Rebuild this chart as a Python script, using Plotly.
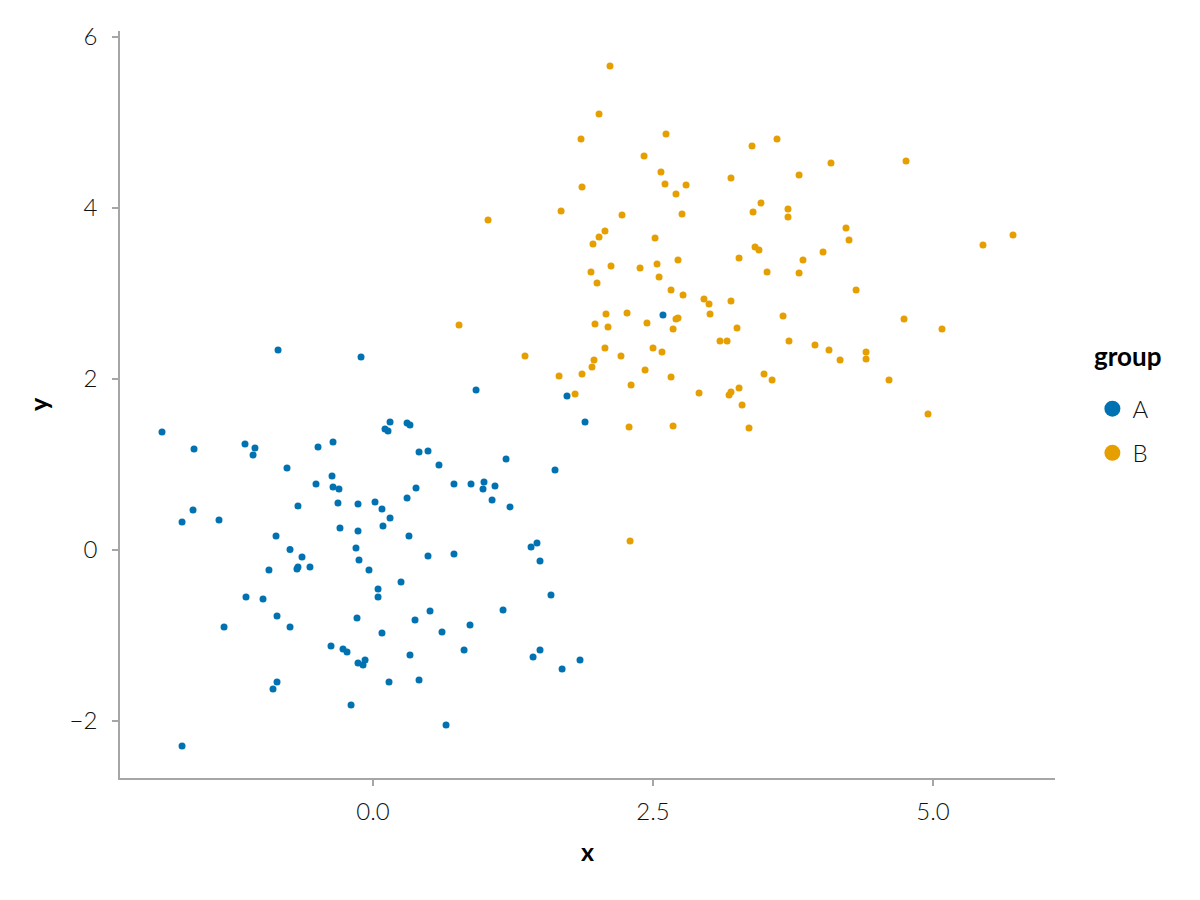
import plotly.graph_objects as go

# Group A
a_x = [-1.884, -1.598, -1.143, -1.054, -1.071, -0.848, -0.107, -0.491, -0.357, -0.768,
       -0.366, -0.509, -0.357, -0.304, -0.313, -0.134, 0.018, 0.080, 0.152, 0.089,
       0.321, -0.670, -1.607, -1.705, -1.375, -0.866, -0.295, -0.134, 0.920, 0.152,
       0.107, 0.134, 0.304, 0.330, 0.411, 0.491, 0.589, 1.188, 1.625, 0.723,
       0.875, 0.991, 0.982, 1.089, 1.063, 1.223, 0.384, 0.304, 1.732, 1.893,
       -0.741, -0.634, -0.929, -0.679, -0.670, -0.563, -0.152, -0.125, -0.036, 0.045,
       0.045, -1.134, -0.982, -0.857, -1.330, -0.741, -0.143, 0.080, -0.375, -0.268,
       -0.232, -0.134, -0.071, -0.089, -0.857, -0.893, -0.196, -1.705, 0.491, 0.723,
       0.250, 1.411, 1.464, 1.491, 1.589, 1.161, 0.509, 0.375, 0.866, 0.616,
       0.813, 0.330, 1.491, 1.429, 1.848, 1.688, 0.143, 0.411, 0.652, 2.589]
a_y = [1.380, 1.181, 1.240, 1.193, 1.111, 2.339, 2.257, 1.205, 1.263, 0.959,
       0.865, 0.772, 0.737, 0.713, 0.550, 0.538, 0.561, 0.480, 0.374, 0.281,
       0.164, 0.515, 0.468, 0.327, 0.351, 0.164, 0.257, 0.222, 1.871, 1.497,
       1.415, 1.392, 1.485, 1.462, 1.146, 1.158, 0.994, 1.064, 0.936, 0.772,
       0.772, 0.795, 0.713, 0.749, 0.585, 0.503, 0.725, 0.608, 1.801, 1.497,
       0.005, -0.082, -0.234, -0.222, -0.199, -0.199, 0.023, -0.117, -0.234, -0.456,
       -0.550, -0.550, -0.573, -0.772, -0.901, -0.901, -0.795, -0.971, -1.123, -1.158,
       -1.193, -1.322, -1.287, -1.345, -1.544, -1.626, -1.813, -2.292, -0.070, -0.047,
       -0.374, 0.035, 0.082, -0.129, -0.526, -0.702, -0.713, -0.819, -0.877, -0.959,
       -1.170, -1.228, -1.170, -1.251, -1.287, -1.392, -1.544, -1.520, -2.047, 2.749]

# Group B
b_x = [2.116, 2.018, 1.857, 1.866, 1.679, 1.027, 2.223, 2.071, 2.018, 1.964,
       2.125, 1.946, 2.000, 2.384, 2.080, 2.268, 1.982, 2.098, 0.768, 2.616,
       2.420, 2.571, 2.607, 2.795, 2.705, 2.759, 3.384, 3.607, 3.196, 3.804,
       4.089, 3.464, 3.393, 3.705, 3.705, 2.518, 3.411, 3.446, 4.018, 2.536,
       2.723, 3.268, 3.839, 2.554, 3.518, 3.804, 2.661, 2.768, 2.955, 3.000,
       3.196, 3.009, 3.661, 2.723, 2.705, 2.446, 2.679, 3.250, 4.759, 4.223,
       4.250, 5.446, 5.714, 4.313, 4.741, 5.080, 2.071, 2.214, 1.357, 1.973,
       1.955, 1.866, 1.661, 2.304, 1.804, 2.286, 2.295, 3.098, 3.161, 3.714,
       3.946, 4.071, 2.500, 2.580, 2.429, 2.661, 2.911, 3.196, 3.179, 3.268,
       3.295, 2.679, 3.357, 4.170, 4.402, 4.402, 4.607, 4.955, 3.491, 3.563]
b_y = [5.661, 5.099, 4.807, 4.246, 3.965, 3.860, 3.918, 3.731, 3.661, 3.579,
       3.322, 3.251, 3.123, 3.298, 2.760, 2.772, 2.643, 2.608, 2.632, 4.865,
       4.608, 4.421, 4.281, 4.269, 4.164, 3.930, 4.725, 4.807, 4.351, 4.386,
       4.526, 4.058, 3.953, 3.988, 3.895, 3.649, 3.544, 3.509, 3.485, 3.345,
       3.392, 3.415, 3.392, 3.193, 3.251, 3.240, 3.041, 2.982, 2.936, 2.877,
       2.912, 2.760, 2.737, 2.713, 2.702, 2.655, 2.585, 2.596, 4.550, 3.766,
       3.626, 3.567, 3.684, 3.041, 2.702, 2.585, 2.363, 2.269, 2.269, 2.222,
       2.140, 2.058, 2.035, 1.930, 1.825, 1.439, 0.105, 2.444, 2.444, 2.444,
       2.398, 2.339, 2.363, 2.316, 2.105, 2.023, 1.836, 1.848, 1.813, 1.895,
       1.696, 1.450, 1.427, 2.222, 2.316, 2.234, 1.988, 1.591, 2.058, 1.988]

groups = ["A", "B"]
colors = {"A": "#0072B2", "B": "#E69F00"}
data = {"A": (a_x, a_y), "B": (b_x, b_y)}

x_ticks = [0.0, 2.5, 5.0]
y_ticks = [-2, 0, 2, 4, 6]
legend_title = "group"

FONT = "Lato"
TXT = "#111111"

fig = go.Figure()
for g in groups:
    xs, ys = data[g]
    fig.add_trace(go.Scatter(
        x=xs, y=ys, mode="markers", name=g, legendgroup=g, showlegend=False,
        marker=dict(color=colors[g], size=7, line=dict(width=0)),
    ))
    # legend entry with larger symbol
    fig.add_trace(go.Scatter(
        x=[None], y=[None], mode="markers", name=g, legendgroup=g, showlegend=True,
        marker=dict(color=colors[g], size=16, line=dict(width=0)),
    ))

axis_common = dict(
    showgrid=False, zeroline=False, showline=True, linecolor="#a6a6a6", linewidth=1.5,
    ticks="outside", ticklen=6, tickwidth=1.5, tickcolor="#a6a6a6",
    tickfont=dict(family=FONT, size=24, color=TXT, weight=300),
)

fig.update_layout(
    width=1192, height=892,
    paper_bgcolor="white", plot_bgcolor="white",
    margin=dict(l=112, r=145, t=23, b=122),
    font=dict(family=FONT, size=20, color=TXT),
    xaxis=dict(
        range=[-2.259, 6.089], tickvals=x_ticks, ticktext=[f"{v:.1f}" for v in x_ticks],
        ticklabelstandoff=5,
        title=dict(text="x", font=dict(family=FONT, size=25, color="black", weight="bold"), standoff=20),
        **axis_common,
    ),
    yaxis=dict(
        range=[-2.667, 6.07], tickvals=y_ticks, ticklabelstandoff=10,
        title=dict(text="y", font=dict(family=FONT, size=25, color="black", weight="bold"), standoff=14),
        **axis_common,
    ),
    legend=dict(
        font=dict(family=FONT, size=24, color=TXT, weight=300),
        x=1.040, xanchor="left", y=0.524, yanchor="top",
        traceorder="grouped", tracegroupgap=10, itemsizing="trace",
        bgcolor="rgba(0,0,0,0)",
    ),
    annotations=[dict(
        text=legend_title, xref="paper", yref="paper", x=1.078, y=0.565,
        xanchor="center", yanchor="middle", showarrow=False,
        font=dict(family=FONT, size=26, color="black", weight="bold"),
    )],
)

fig.write_html("out.html")
